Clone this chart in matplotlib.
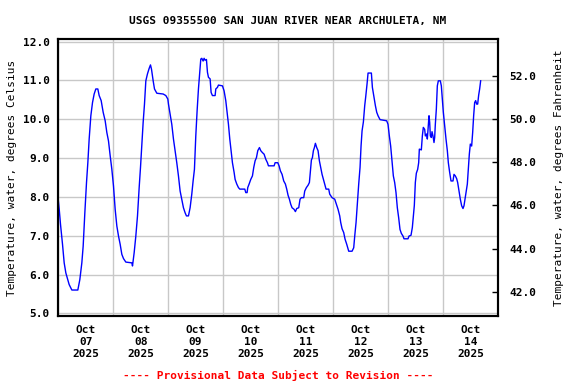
"""USGS water temperature hydrograph, San Juan River near Archuleta, NM."""

import matplotlib

matplotlib.use("Agg")
import matplotlib.pyplot as plt
import matplotlib.dates as mdates
import pandas as pd

# hours after 2025-10-07 00:00 and water temperature (deg C)
hours = [
    0.0, 0.5, 1.02, 1.89, 2.62, 3.35, 4.80, 5.97, 8.58, 9.46, 10.33, 10.91,
    11.64, 12.37, 12.95, 13.53, 14.26, 14.99, 15.71, 16.44, 17.31, 17.90,
    18.77, 19.64, 20.52, 21.24, 21.97, 22.70, 23.43, 24.15, 24.88, 25.61,
    26.34, 27.06, 27.79, 28.52, 29.54, 32.16, 32.45, 33.17, 33.90, 34.63,
    35.36, 35.94, 36.52, 37.10, 37.68, 38.27, 38.99, 39.72, 40.30, 40.74,
    41.47, 42.05, 43.07, 45.83, 47.00, 47.87,
    48.15, 48.87, 49.60, 50.33, 51.06, 51.78, 52.51, 53.24, 53.97, 54.69,
    55.42, 56.00, 56.88, 57.60, 58.33, 58.91, 59.49, 60.08, 60.66, 61.24,
    61.82, 62.26, 62.70, 63.28, 63.71, 64.15, 64.73, 65.17, 65.61, 66.33,
    66.77, 67.35, 68.52, 68.81, 69.53, 69.97, 71.72, 72.44, 73.17, 73.75,
    74.34, 74.92, 75.50, 76.08, 76.81, 77.25, 77.97, 78.70, 79.28, 81.47,
    81.91, 82.48, 82.77, 83.36, 84.08, 84.81, 85.39, 85.98, 86.56, 87.14,
    87.87, 88.45, 89.18, 89.90, 90.63, 91.36, 91.80, 94.27, 94.71, 95.87,
    96.44, 97.02, 97.75, 98.47, 99.20, 99.78, 100.37, 100.95, 101.53, 102.11,
    102.98, 103.57, 104.15, 105.02, 105.60, 106.19, 107.20, 107.64, 108.37,
    109.10, 109.68, 110.11, 110.55, 110.99, 111.42, 111.86, 112.30, 112.88,
    113.46, 114.04, 114.62, 115.21, 115.79, 116.37, 116.95, 118.12, 118.55,
    119.57, 120.74, 121.46, 122.19, 122.92, 123.35, 123.94, 124.66, 125.25,
    125.97, 126.85, 128.30, 129.03, 129.47, 130.05, 130.63, 131.21, 131.79,
    132.23, 132.67, 133.25, 133.83, 134.27, 134.85, 135.29, 136.74, 137.18,
    137.76, 138.49, 139.07, 139.65, 140.52, 143.43,
    144.00, 144.58, 145.16, 145.75, 146.33, 146.91, 147.49, 148.07, 148.66,
    149.24, 149.82, 150.55, 150.98, 152.73, 153.17, 154.04, 154.62, 155.06,
    155.49, 155.93, 156.37, 156.95, 157.39, 157.68, 158.55, 158.99, 159.42,
    160.01, 160.30, 160.88, 161.17, 161.46, 161.90, 162.19, 162.48, 162.92,
    163.21, 163.64, 164.08, 164.37, 164.66, 165.10, 165.53, 165.97, 166.84,
    167.28, 167.72, 168.15, 168.74, 169.32, 169.90, 170.34, 170.92, 171.50,
    172.37, 172.81, 173.39, 173.97, 174.41, 174.99, 175.57, 176.16, 176.74,
    177.17, 177.61, 178.19, 178.63, 179.07, 179.50, 179.94, 180.52, 180.96,
    181.39, 181.83, 182.27, 182.70, 183.14, 183.58, 184.01, 184.45,
]
temp_c = [
    7.95, 7.65, 7.29, 6.78, 6.30, 6.04, 5.74, 5.60, 5.60, 5.87, 6.30, 6.73,
    7.59, 8.37, 8.88, 9.49, 10.09, 10.43, 10.65, 10.78, 10.78, 10.61,
    10.48, 10.18, 9.96, 9.66, 9.44, 9.06, 8.71, 8.28, 7.68, 7.25,
    6.99, 6.78, 6.52, 6.41, 6.32, 6.30, 6.22, 6.56, 6.99, 7.51,
    8.24, 8.76, 9.36, 9.92, 10.39, 10.99, 11.17, 11.31, 11.40, 11.29,
    10.99, 10.78, 10.67, 10.65, 10.61, 10.52,
    10.39, 10.13, 9.87, 9.49, 9.19, 8.88, 8.54, 8.15, 7.94, 7.72,
    7.59, 7.51, 7.51, 7.72, 8.07, 8.41, 8.71, 9.57, 10.22, 10.78,
    11.21, 11.55, 11.57, 11.50, 11.57, 11.52, 11.54, 11.21, 11.08, 11.04,
    10.69, 10.61, 10.61, 10.78, 10.82, 10.88, 10.86, 10.73, 10.48, 10.18,
    9.87, 9.49, 9.19, 8.88, 8.63, 8.45, 8.33, 8.24, 8.20, 8.20,
    8.11, 8.11, 8.24, 8.33, 8.45, 8.54, 8.76, 8.93, 9.01, 9.19,
    9.27, 9.19, 9.14, 9.10, 8.97, 8.88, 8.80, 8.80, 8.88, 8.88,
    8.80, 8.67, 8.58, 8.41, 8.33, 8.20, 8.04, 7.94, 7.81, 7.72,
    7.68, 7.62, 7.70, 7.72, 7.94, 7.98, 7.98, 8.15, 8.24,
    8.30, 8.37, 8.67, 8.95, 9.01, 9.19, 9.27, 9.38, 9.27,
    9.19, 8.93, 8.76, 8.58, 8.45, 8.33, 8.20, 8.20, 8.07,
    7.98, 7.94, 7.81, 7.68, 7.51, 7.34, 7.18, 7.08, 6.91,
    6.78, 6.60, 6.60, 6.69, 6.99, 7.34, 7.85, 8.33, 8.76,
    9.31, 9.70, 9.93, 10.35, 10.58, 10.91, 11.19, 11.19, 10.82,
    10.61, 10.35, 10.18, 10.09, 9.99, 9.96,
    9.87, 9.57, 9.31, 8.93, 8.54, 8.37, 8.11, 7.72, 7.46,
    7.16, 7.06, 6.99, 6.92, 6.92, 6.99, 7.01, 7.21, 7.51,
    7.78, 8.37, 8.61, 8.71, 8.88, 9.23, 9.21, 9.57, 9.79,
    9.74, 9.57, 9.62, 9.49, 9.74, 10.09, 9.92, 9.57, 9.53,
    9.68, 9.57, 9.40, 9.53, 9.87, 10.26, 10.86, 10.99, 10.99,
    10.86, 10.52, 10.18, 9.83, 9.49, 9.19, 8.88, 8.63, 8.41,
    8.41, 8.58, 8.54, 8.47, 8.37, 8.15, 7.94, 7.77, 7.70,
    7.77, 7.94, 8.15, 8.33, 8.71, 9.10, 9.36, 9.31, 9.66,
    10.09, 10.43, 10.48, 10.39, 10.39, 10.62, 10.78, 10.99,
]

start = pd.Timestamp("2025-10-07")
end = pd.Timestamp("2025-10-15")
yticks_c = [5, 6, 7, 8, 9, 10, 11, 12]
yticks_f = [42, 44, 46, 48, 50, 52]

FONT = "DejaVu Sans Mono"
plt.rcParams["font.family"] = FONT
plt.rcParams["font.weight"] = "bold"

times = start + pd.to_timedelta(hours, unit="h")

fig = plt.figure(figsize=(5.76, 3.84), dpi=100)
ax = fig.add_axes([0.101, 0.178, 0.7635, 0.7197])

ax.plot(times, temp_c, color="#0000ff", linewidth=1.0, zorder=3)

ax.set_xlim(start, end)
ax.set_ylim(4.94, 12.06)

# labels at noon, grid at midnight
ax.xaxis.set_major_locator(mdates.HourLocator(byhour=[12]))
ax.xaxis.set_major_formatter(mdates.DateFormatter("%b\n%d\n%Y"))
ax.xaxis.set_minor_locator(mdates.DayLocator())
ax.tick_params(axis="x", which="both", length=0, pad=7, labelsize=8)
ax.grid(True, axis="x", which="minor", color="#c8c8c8", linewidth=1.0)
for lbl in ax.get_xticklabels():
    lbl.set_linespacing(1.25)

ax.set_yticks(yticks_c)
ax.set_yticklabels([f"{v:.1f}" for v in yticks_c])
ax.tick_params(axis="y", length=0, pad=6, labelsize=8)
ax.grid(True, axis="y", color="#c8c8c8", linewidth=1.0)
ax.set_axisbelow(True)
ax.set_ylabel("Temperature, water, degrees Celsius", fontsize=8, labelpad=4)

for sp in ax.spines.values():
    sp.set_linewidth(1.5)

ax2 = ax.twinx()
ax2.set_ylim(4.94 * 1.8 + 32, 12.06 * 1.8 + 32)
ax2.set_yticks(yticks_f)
ax2.set_yticklabels([f"{v:.1f}" for v in yticks_f])
ax2.tick_params(axis="y", direction="in", length=4, width=1, pad=8, labelsize=8)
ax2.set_ylabel("Temperature, water, degrees Fahrenheit", fontsize=8, labelpad=13)
for sp in ax2.spines.values():
    sp.set_linewidth(1.5)

fig.text(0.5, 0.946, "USGS 09355500 SAN JUAN RIVER NEAR ARCHULETA, NM",
         ha="center", va="center", fontsize=8)
fig.text(0.483, 0.023, "---- Provisional Data Subject to Revision ----",
         ha="center", va="center", fontsize=8, color="red")

fig.savefig("out.png", dpi=100)
